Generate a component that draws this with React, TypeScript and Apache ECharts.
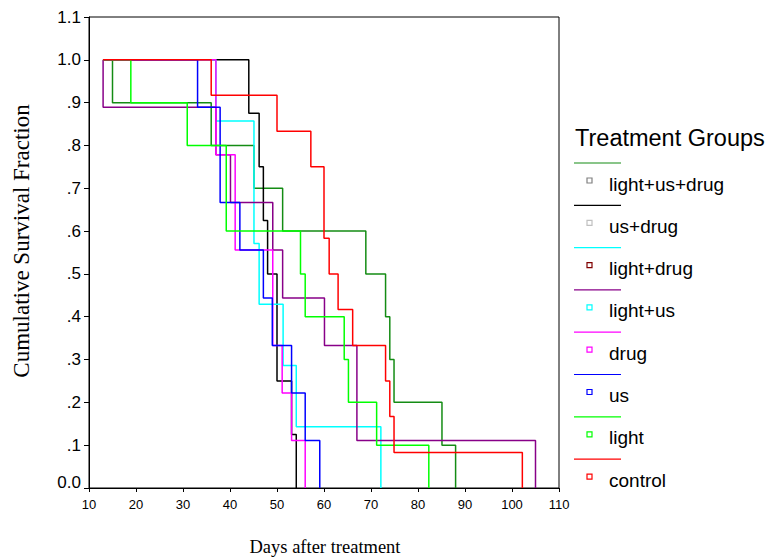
import React, { useEffect, useRef } from "react";
import * as echarts from "echarts";

// ---- data (days, cumulative survival) ----
const groupNames = ["light+us+drug", "us+drug", "light+drug", "light+us", "drug", "us", "light", "control"];
const lineColors = ["#148c14", "#000000", "#00ffff", "#880088", "#ff00ff", "#0000ff", "#00ff00", "#ff0000"];
const squareColors = ["#808080", "#c0c0c0", "#800000", "#00ffff", "#ff00ff", "#0000ff", "#00ff00", "#ff0000"];

const lightUsDrugDays = [13, 15, 36, 45.1, 51.2, 68.9, 73.1, 74, 74.9, 85.1, 88];
const lightUsDrugSurv = [1, 0.9, 0.8, 0.7, 0.6, 0.5, 0.4, 0.3, 0.2, 0.1, 0];

const usDrugDays = [13, 44, 46.2, 47.1, 48, 50, 53.1, 54.1];
const usDrugSurv = [1, 0.875, 0.75, 0.625, 0.5, 0.25, 0.125, 0];

const lightDrugDays = [13, 37, 45.1, 46.2, 51.3, 54.1, 72.1];
const lightDrugSurv = [1, 0.857, 0.571, 0.429, 0.286, 0.143, 0];

const lightUsDays = [13, 13, 37, 40.1, 49.1, 51.2, 60.1, 67, 105];
const lightUsSurv = [1, 0.889, 0.778, 0.667, 0.556, 0.444, 0.333, 0.111, 0];

const drugDays = [13, 37, 41.1, 49.1, 51.1, 53.1, 56];
const drugSurv = [1, 0.778, 0.556, 0.333, 0.222, 0.111, 0];

const usDays = [13, 33.1, 37.9, 42.1, 47.1, 49, 53.1, 56, 59.1];
const usSurv = [1, 0.889, 0.667, 0.556, 0.444, 0.333, 0.222, 0.111, 0];

const lightDays = [13, 18.9, 30.9, 39.2, 55, 56, 64.3, 65.2, 71.2, 82.3];
const lightSurv = [1, 0.9, 0.8, 0.6, 0.5, 0.4, 0.3, 0.2, 0.1, 0];

const controlDays = [13, 36, 50, 57.2, 60, 61.1, 63, 66.1, 73.1, 74, 74.9, 102.2];
const controlSurv = [1, 0.917, 0.833, 0.75, 0.583, 0.5, 0.417, 0.333, 0.25, 0.167, 0.083, 0];

const seriesDays = [lightUsDrugDays, usDrugDays, lightDrugDays, lightUsDays, drugDays, usDays, lightDays, controlDays];
const seriesSurv = [lightUsDrugSurv, usDrugSurv, lightDrugSurv, lightUsSurv, drugSurv, usSurv, lightSurv, controlSurv];

const xTicks = { min: 10, max: 110, interval: 10 };
const yTicks = { min: 0, max: 1.1, interval: 0.1 };

const legendTitle = "Treatment Groups";
const xTitle = "Days after treatment";
const yTitle = "Cumulative Survival Fraction";

export default function App() {
  const ref = useRef<HTMLDivElement>(null);
  useEffect(() => {
    if (!ref.current) return;
    const chart = echarts.init(ref.current, null, { renderer: "svg" });
    const sans = "'Liberation Sans', Arial, sans-serif";
    const serif = "'Liberation Serif', 'Times New Roman', serif";

    const graphics: any[] = [
      {
        type: "text",
        x: 575,
        y: 138,
        style: { text: legendTitle, font: `23.5px ${sans}`, fill: "#000", textVerticalAlign: "middle" },
      },
      {
        type: "text",
        x: 325,
        y: 547,
        style: { text: xTitle, font: `18.5px ${serif}`, fill: "#000", textAlign: "center", textVerticalAlign: "middle" },
      },
      {
        type: "text",
        x: 21,
        y: 241,
        rotation: Math.PI / 2,
        style: { text: yTitle, font: `23px ${serif}`, fill: "#000", textAlign: "center", textVerticalAlign: "middle" },
      },
    ];
    groupNames.forEach((name, i) => {
      const ly = 163 + i * 42.3;
      graphics.push({
        type: "line",
        shape: { x1: 574, y1: ly, x2: 621, y2: ly },
        style: { stroke: lineColors[i], lineWidth: 1.2 },
      });
      graphics.push({
        type: "rect",
        shape: { x: 587, y: ly + 15, width: 5, height: 5 },
        style: { fill: "#fff", stroke: squareColors[i], lineWidth: 1.2 },
      });
      graphics.push({
        type: "text",
        x: 609,
        y: ly + 21,
        style: { text: name, font: `19px ${sans}`, fill: "#000", textVerticalAlign: "middle" },
      });
    });

    chart.setOption({
      animation: false,
      backgroundColor: "#fff",
      grid: {
        left: 89,
        right: 210,
        top: 17,
        bottom: 72,
        show: true,
        borderColor: "#000",
        borderWidth: 1,
      },
      xAxis: {
        type: "value",
        min: xTicks.min,
        max: xTicks.max,
        interval: xTicks.interval,
        axisLine: { lineStyle: { color: "#000", width: 1 } },
        axisTick: { show: true, length: 4, lineStyle: { color: "#000" } },
        axisLabel: { fontFamily: sans, fontSize: 13, color: "#000", margin: 10 },
        splitLine: { show: false },
      },
      yAxis: {
        type: "value",
        min: yTicks.min,
        max: yTicks.max,
        interval: yTicks.interval,
        axisLine: { show: true, lineStyle: { color: "#000", width: 1 } },
        axisTick: { show: true, length: 5, lineStyle: { color: "#000" } },
        axisLabel: {
          fontFamily: sans,
          fontSize: 17,
          color: "#000",
          margin: 8,
          formatter: (v: number) => {
            const k = Math.round(v * 10);
            if (k === 0) return "{z|0.0}";
            if (k >= 10) return (k / 10).toFixed(1);
            return "." + k;
          },
          rich: { z: { fontFamily: sans, fontSize: 17, color: "#000", padding: [0, 0, 11, 0] } },
        },
        splitLine: { show: false },
      },
      series: seriesDays.map((days, i) => ({
        type: "line",
        name: groupNames[i],
        step: "end",
        showSymbol: false,
        symbol: "none",
        lineStyle: { color: lineColors[i], width: 1.5 },
        itemStyle: { color: lineColors[i] },
        data: days.map((d, j) => [d, seriesSurv[i][j]]),
        z: 2 + i,
      })),
      graphic: graphics,
    });
    return () => chart.dispose();
  }, []);
  return <div ref={ref} style={{ position: "fixed", left: 0, top: 0, width: 769, height: 560 }} />;
}
